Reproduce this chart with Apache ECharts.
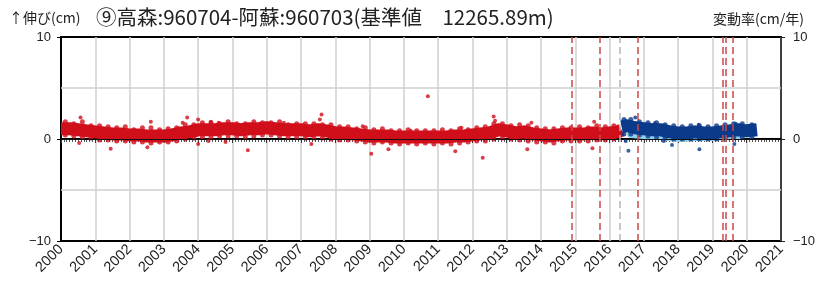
<!DOCTYPE html>
<html><head><meta charset="utf-8">
<script src="https://cdn.jsdelivr.net/npm/echarts@6/dist/echarts.min.js"></script>
<style>html,body{margin:0;padding:0;background:#fff}#c{width:838px;height:291px}</style>
</head><body><div id="c"></div>
<script>
// ---- data (cm) ----
const redYears = [2000.0,2000.25,2000.5,2000.75,2001.0,2001.25,2001.5,2001.75,2002.0,2002.25,2002.5,2002.75,2003.0,2003.25,2003.5,2003.75,2004.0,2004.25,2004.5,2004.75,2005.0,2005.25,2005.5,2005.75,2006.0,2006.25,2006.5,2006.75,2007.0,2007.25,2007.5,2007.75,2008.0,2008.25,2008.5,2008.75,2009.0,2009.25,2009.5,2009.75,2010.0,2010.25,2010.5,2010.75,2011.0,2011.25,2011.5,2011.75,2012.0,2012.25,2012.5,2012.75,2013.0,2013.25,2013.5,2013.75,2014.0,2014.25,2014.5,2014.75,2015.0,2015.25,2015.5,2015.75,2016.0,2016.25,2016.35];
const redValues = [1.0,1.0,0.9,0.8,0.7,0.6,0.5,0.5,0.4,0.4,0.3,0.3,0.3,0.4,0.6,0.7,0.9,0.9,0.9,1.0,1.0,0.9,1.0,1.0,1.1,1.0,0.9,0.9,0.9,0.8,0.9,0.8,0.6,0.6,0.5,0.4,0.3,0.3,0.3,0.2,0.2,0.2,0.2,0.2,0.2,0.2,0.3,0.3,0.4,0.5,0.6,0.9,0.8,0.6,0.7,0.5,0.4,0.3,0.4,0.5,0.5,0.5,0.6,0.5,0.6,0.7,0.9];
// band fringe points (upper / lower edges of the daily scatter)
const redEdgeYears = [2000.125,2000.375,2000.625,2000.875,2001.125,2001.375,2001.625,2001.875,2002.125,2002.375,2002.625,2002.875,2003.125,2003.375,2003.625,2003.875,2004.125,2004.375,2004.625,2004.875,2005.125,2005.375,2005.625,2005.875,2006.125,2006.375,2006.625,2006.875,2007.125,2007.375,2007.625,2007.875,2008.125,2008.375,2008.625,2008.875,2009.125,2009.375,2009.625,2009.875,2010.125,2010.375,2010.625,2010.875,2011.125,2011.375,2011.625,2011.875,2012.125,2012.375,2012.625,2012.875,2013.125,2013.375,2013.625,2013.875,2014.125,2014.375,2014.625,2014.875,2015.125,2015.375,2015.625,2015.875,2016.125];
const redUpper = [1.7,1.5,1.7,1.3,1.3,1.2,1.1,1.2,0.9,1.1,1.1,0.9,1.0,1.1,1.4,1.4,1.6,1.6,1.5,1.7,1.5,1.5,1.7,1.6,1.6,1.7,1.4,1.5,1.5,1.5,1.4,1.4,1.2,1.2,1.0,1.1,0.9,1.0,0.8,0.8,0.9,0.8,0.8,0.8,0.9,0.8,1.0,0.9,1.1,1.2,1.5,1.5,1.3,1.4,1.3,1.1,1.0,1.0,1.1,1.1,1.2,1.1,1.3,1.2,1.3];
const redLower = [0.4,0.3,0.2,0.1,-0.1,-0.1,-0.2,-0.2,-0.3,-0.3,-0.4,-0.3,-0.3,-0.2,0.0,0.1,0.2,0.2,0.3,0.3,0.3,0.2,0.3,0.4,0.4,0.3,0.2,0.2,0.1,0.1,0.1,0.0,-0.1,-0.1,-0.2,-0.3,-0.4,-0.3,-0.4,-0.5,-0.4,-0.5,-0.4,-0.5,-0.4,-0.5,-0.4,-0.3,-0.2,-0.2,0.0,0.1,0.0,-0.1,-0.2,-0.3,-0.3,-0.4,-0.2,-0.2,-0.2,-0.2,-0.1,-0.1,0.0];
const blueYears = [2016.35,2016.5,2016.75,2017.0,2017.25,2017.5,2017.75,2018.0,2018.25,2018.5,2018.75,2019.0,2019.25,2019.5,2019.75,2020.0,2020.3];
const blueValues = [1.2,1.3,1.1,1.0,0.9,0.9,0.7,0.6,0.6,0.7,0.6,0.6,0.7,0.8,0.9,0.8,0.9];
const blueEdgeYears = [2016.42,2016.62,2016.87,2017.12,2017.37,2017.62,2017.87,2018.12,2018.37,2018.62,2018.87,2019.12,2019.37,2019.62,2019.87,2020.15];
const blueUpper = [1.9,1.9,1.7,1.6,1.6,1.4,1.3,1.2,1.3,1.3,1.2,1.3,1.4,1.5,1.5,1.4];
const blueLower = [0.5,0.5,0.4,0.3,0.2,0.1,0.0,0.0,0.0,0.0,0.0,0.0,0.1,0.1,0.2,0.2];
const lightYears = [2016.6,2017.0,2017.5,2018.0,2018.5,2019.0,2019.5,2019.8];
const lightValues = [0.4,0.3,0.2,0.0,0.1,0.1,0.2,0.3];
const redOutYears = [2000.57,2000.53,2001.45,2002.62,2002.52,2003.68,2003.55,2004.3,2004.8,2004.37,2004.6,2004.0,2004.0,2005.45,2006.0,2006.5,2007.6,2007.55,2007.3,2008.8,2009.05,2009.55,2010.2,2010.7,2011.5,2011.68,2012.3,2012.62,2012.66,2013.72,2013.6,2015.55,2015.5];
const redOutValues = [2.1,-0.4,-0.95,1.7,-0.8,2.1,1.6,-0.2,-0.3,1.7,1.6,1.9,-0.5,-1.1,1.5,1.6,2.4,1.9,-0.5,1.25,-1.45,-1.0,0.8,4.2,-1.2,1.1,-1.85,2.2,1.8,1.6,-1.0,1.7,-0.9];
const blueOutYears = [2016.75,2016.55,2016.47,2017.58,2017.82,2018.6,2018.62,2019.68,2019.64,2017.32];
const blueOutValues = [2.1,-1.15,-0.2,-0.2,-0.6,1.4,-1.0,1.5,-0.5,1.55];
const redEvents = [2014.91,2015.70,2016.81,2019.31,2019.39,2019.59];
const grayEvents = [2016.30];
const yearTicks = [2000,2021];
const yTicks = [-10,10];

const zip = (a,b)=>a.map((v,i)=>[v,b[i]]);
const RED='#d10f1b', BLUE='#0b3a8a', LIGHT='#8fd0ec';
const chart = echarts.init(document.getElementById('c'));
const cjk = '"Noto Sans CJK JP", sans-serif';
const lat = '"Liberation Sans", Arial, sans-serif';
chart.setOption({
  animation:false,
  grid:{left:61,right:57,top:37,bottom:50,show:true,borderColor:'#000',borderWidth:2},
  title:[
    {text:'↑伸び(cm)',left:4,top:6,textStyle:{fontFamily:cjk,fontSize:14,fontWeight:'normal',color:'#222'}},
    {text:'⑨高森:960704-阿蘇:960703(基準値　12265.89m)',left:91,top:2,textStyle:{fontFamily:cjk,fontSize:20.5,fontWeight:'normal',color:'#222'}},
    {text:'変動率(cm/年)',left:708,top:7,textStyle:{fontFamily:cjk,fontSize:14,fontWeight:'normal',color:'#222'}}
  ],
  xAxis:{type:'value',min:yearTicks[0],max:yearTicks[1],interval:1,
    axisLine:{lineStyle:{color:'#000',width:2}},
    axisTick:{show:true,length:4,lineStyle:{color:'#333'}},
    minorTick:{show:true,splitNumber:12,length:3,lineStyle:{color:'#555'}},
    axisLabel:{rotate:45,margin:6,fontFamily:lat,fontSize:14.5,color:'#222',formatter:v=>String(v)},
    splitLine:{show:true,lineStyle:{color:'#cfcfcf',width:1.5}}},
  yAxis:[
    {type:'value',min:yTicks[0],max:yTicks[1],interval:10,position:'left',
     axisLine:{show:true,lineStyle:{color:'#000',width:2}},
     axisTick:{show:true,length:4,lineStyle:{color:'#000'}},
     axisLabel:{margin:10,fontFamily:lat,fontSize:13,color:'#222',formatter:v=>v<0?'−'+Math.abs(v):String(v)},
     splitLine:{show:false}},
    {type:'value',min:yTicks[0],max:yTicks[1],interval:10,position:'right',
     axisLine:{show:true,lineStyle:{color:'#222',width:1.5}},
     axisTick:{show:true,length:4,lineStyle:{color:'#222'}},
     axisLabel:{margin:12,fontFamily:lat,fontSize:13,color:'#222',formatter:v=>v<0?'−'+Math.abs(v):String(v)},
     splitLine:{show:false}}
  ],
  series:[
    {type:'line',data:[],silent:true,
     markLine:{symbol:'none',silent:true,label:{show:false},
       data:[
         {yAxis:5,lineStyle:{color:'#cfcfcf',width:1.5,type:'solid'}},
         {yAxis:-5,lineStyle:{color:'#cfcfcf',width:1.5,type:'solid'}},
         {yAxis:0,lineStyle:{color:'#111',width:1,type:'solid'}},
         ...grayEvents.map(x=>({xAxis:x,lineStyle:{color:'#b5b5b5',width:1.5,type:[7,4]}})),
         ...redEvents.map(x=>({xAxis:x,lineStyle:{color:'#cc4a4a',width:1.5,type:[7,4]}}))
       ]}},
    {type:'line',data:zip(lightYears,lightValues),symbol:'none',lineStyle:{color:LIGHT,width:6,cap:'round'},z:3},
    {type:'line',data:zip(redYears,redValues),symbol:'none',lineStyle:{color:RED,width:13,join:'round'},z:4},
    {type:'line',data:zip(blueYears,blueValues),symbol:'none',lineStyle:{color:BLUE,width:13,join:'round'},z:4},
    {type:'scatter',data:zip(redEdgeYears,redUpper).concat(zip(redEdgeYears,redLower)),symbolSize:5,itemStyle:{color:RED},z:4},
    {type:'scatter',data:zip(blueEdgeYears,blueUpper).concat(zip(blueEdgeYears,blueLower)),symbolSize:5,itemStyle:{color:BLUE},z:4},
    {type:'scatter',data:zip(redOutYears,redOutValues),symbolSize:4,itemStyle:{color:RED},z:5},
    {type:'scatter',data:zip(blueOutYears,blueOutValues),symbolSize:4,itemStyle:{color:BLUE},z:5}
  ]
});
</script></body></html>
